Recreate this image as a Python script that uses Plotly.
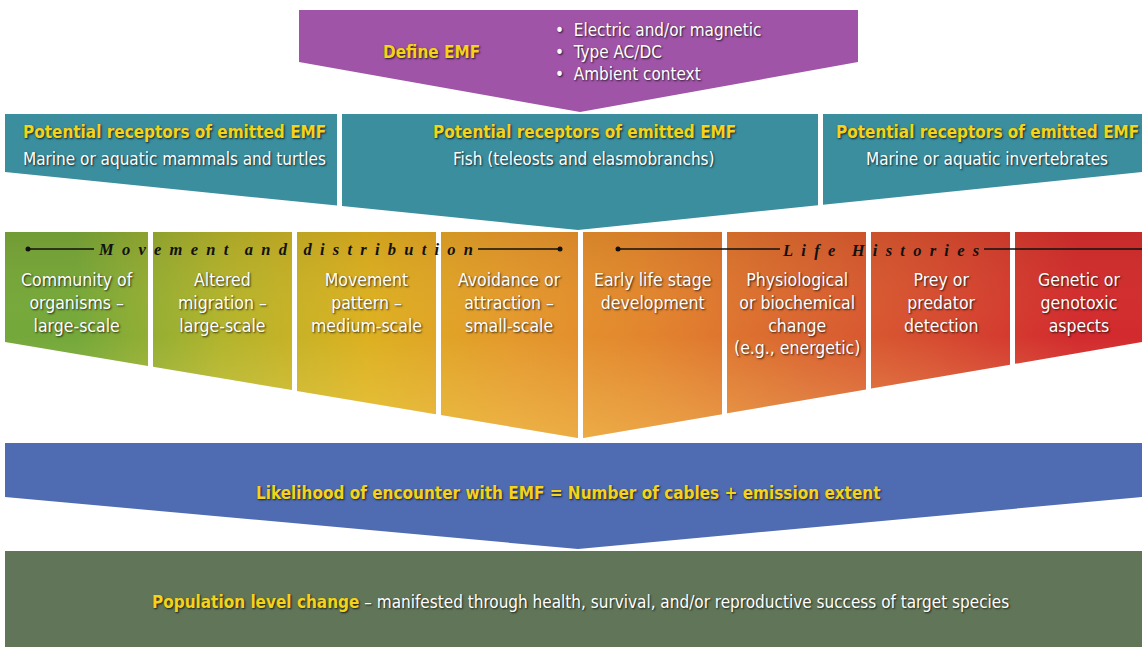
import plotly.graph_objects as go

# ---------------- data (texts of the diagram) ----------------
emf_title = "Define EMF"
emf_bullets = ["Electric and/or magnetic", "Type AC/DC", "Ambient context"]
receptor_title = "Potential receptors of emitted EMF"
receptor_groups = ["Marine or aquatic mammals and turtles",
                   "Fish (teleosts and elasmobranchs)",
                   "Marine or aquatic invertebrates"]
theme_labels = ["Movement and distribution", "Life Histories"]
effect_labels = ["Community of<br>organisms –<br>large-scale",
                 "Altered<br>migration –<br>large-scale",
                 "Movement<br>pattern –<br>medium-scale",
                 "Avoidance or<br>attraction –<br>small-scale",
                 "Early life stage<br>development",
                 "Physiological<br>or biochemical<br>change<br>(e.g., energetic)",
                 "Prey or<br>predator<br>detection",
                 "Genetic or<br>genotoxic<br>aspects"]
effect_colors = ["#74a83a", "#b2b42c", "#dcb020", "#e4992c",
                 "#e2842e", "#da6630", "#d64a30", "#d22a2e"]
encounter_text = "Likelihood of encounter with EMF = Number of cables + emission extent"
population_bold = "Population level change"
population_rest = " – manifested through health, survival, and/or reproductive success of target species"

# ---------------- layout geometry ----------------
W, H = 1142, 647
X0, X1, XC = 5, 1142, 578
YELLOW = "#f4d31a"
NARROW = "Liberation Sans Narrow, Arial Narrow, DejaVu Sans Condensed, sans-serif"
SHADOW_D = "1px 1px 2px rgba(0,0,0,0.75)"

fig = go.Figure()


def poly(xs, ys, color=None, grad=None):
    kw = dict(x=list(xs) + [xs[0]], y=list(ys) + [ys[0]], fill="toself",
              mode="lines", line=dict(width=0), hoverinfo="skip", showlegend=False)
    if grad is not None:
        kw["fillgradient"] = grad
        kw["fillcolor"] = "rgba(0,0,0,0)"
    else:
        kw["fillcolor"] = color
    fig.add_trace(go.Scatter(**kw))


# purple "Define EMF" arrow
poly([299, 858, 858, XC + 2, 299], [10, 10, 62, 112, 62], "#a054a7")

# teal receptor chevron
def teal_bottom(x):
    if x <= XC:
        return 172 + 58 * (x - X0) / (XC - X0)
    return 230 - 58 * (x - XC) / (X1 - XC)

teal_boxes = [(X0, 337), (342, 818), (823, X1)]
TT = 114
for (a, b) in teal_boxes:
    if a < XC < b:
        xs = [a, b, b, XC, a]
        ys = [TT, TT, teal_bottom(b), teal_bottom(XC), teal_bottom(a)]
    else:
        xs = [a, b, b, a]
        ys = [TT, TT, teal_bottom(b), teal_bottom(a)]
    poly(xs, ys, "#3a8e9e")

# gradient effect boxes
def eff_bottom(x):
    if x <= XC:
        return 342 + 96 * (x - X0) / (XC - X0)
    return 438 - 96 * (x - (XC + 5)) / (X1 - (XC + 5))

effect_boxes = [(5, 148), (153, 292), (297, 436), (441, 578),
                (583, 722), (727, 866), (871, 1010), (1015, 1142)]
ET = 232
centers = [(a + b) / 2 for a, b in effect_boxes]
hscale = [[(c - X0) / (X1 - X0), col] for c, col in zip(centers, effect_colors)]
hscale = [[0, effect_colors[0]]] + hscale + [[1, effect_colors[-1]]]
vscale = [[0, "rgba(90,40,0,0.10)"], [0.5, "rgba(255,240,150,0.0)"], [1, "rgba(255,235,120,0.32)"]]
for (a, b) in effect_boxes:
    xs = [a, b, b, a]
    ys = [ET, ET, eff_bottom(b), eff_bottom(a)]
    poly(xs, ys, grad=dict(type="horizontal", colorscale=hscale, start=X0, stop=X1))
    poly(xs, ys, grad=dict(type="vertical", colorscale=vscale, start=ET, stop=440))

# blue encounter arrow
poly([X0, X1, X1, XC, X0], [443, 443, 497, 549, 497], "#4f6cb2")
# green population band
poly([X0, X1, X1, X0], [551, 551, H, H], "#617658")

# ---------------- theme header lines ----------------
for (xa, xb) in [(28, 94), (478, 560), (618, 780), (984, 1142)]:
    fig.add_trace(go.Scatter(x=[xa, xb], y=[249, 249], mode="lines",
                             line=dict(color="#111111", width=1.4),
                             hoverinfo="skip", showlegend=False))
fig.add_trace(go.Scatter(x=[28, 560, 618], y=[249, 249, 249], mode="markers",
                         marker=dict(color="#111111", size=5),
                         hoverinfo="skip", showlegend=False))

annotations = []


def ann(x, y, text, size, color, bold=False, family=NARROW, xanchor="center",
        yanchor="middle", shadow=SHADOW_D, align="center", italic=False):
    annotations.append(dict(x=x, y=y, xref="x", yref="y", text=text, showarrow=False,
                            xanchor=xanchor, yanchor=yanchor, align=align,
                            font=dict(size=size, color=color, family=family,
                                      weight="bold" if bold else "normal",
                                      style="italic" if italic else "normal",
                                      shadow=shadow)))


def spaced(s):
    out = []
    for w in s.split(" "):
        out.append("\u2002".join(list(w)))
    return "\u2002\u2002".join(out)


SERIF = "Liberation Serif, DejaVu Serif, serif"
# theme headers (letter spaced italic serif)
ann(285, 249, spaced(theme_labels[0]), 16.5, "#111111", bold=True,
    family=SERIF, italic=True, shadow="none")
ann(880, 250, spaced(theme_labels[1]), 16.5, "#111111", bold=True,
    family=SERIF, italic=True, shadow="none")

# purple texts
ann(431, 52, emf_title, 17, YELLOW, bold=True)
ann(553, 52, "<br>".join("•  " + b for b in emf_bullets), 17, "white",
    xanchor="left", align="left")

# receptor texts
rec_centers = [174, 584, 987]
for cx, g in zip(rec_centers, receptor_groups):
    ann(cx, 132, receptor_title, 17, YELLOW, bold=True)
    ann(cx, 159, g, 17, "white")

# effect texts
for cx, lab in zip(centers, effect_labels):
    ann(cx, 268, lab, 17.5, "white", yanchor="top")

# bottom texts
ann(568, 493, "<b>" + encounter_text + "</b>", 17, YELLOW)
ann(580, 602, "<span style='color:%s'><b>%s</b></span>%s" % (YELLOW, population_bold, population_rest),
    17, "white")

fig.update_layout(
    width=W, height=H, margin=dict(l=0, r=0, t=0, b=0),
    paper_bgcolor="white", plot_bgcolor="white",
    xaxis=dict(range=[0, W], visible=False, fixedrange=True),
    yaxis=dict(range=[H, 0], visible=False, fixedrange=True),
    annotations=annotations, showlegend=False,
)
fig.write_html("out.html", config={"displayModeBar": False},
               post_script="document.body.style.margin='0';document.body.style.overflow='hidden';")
